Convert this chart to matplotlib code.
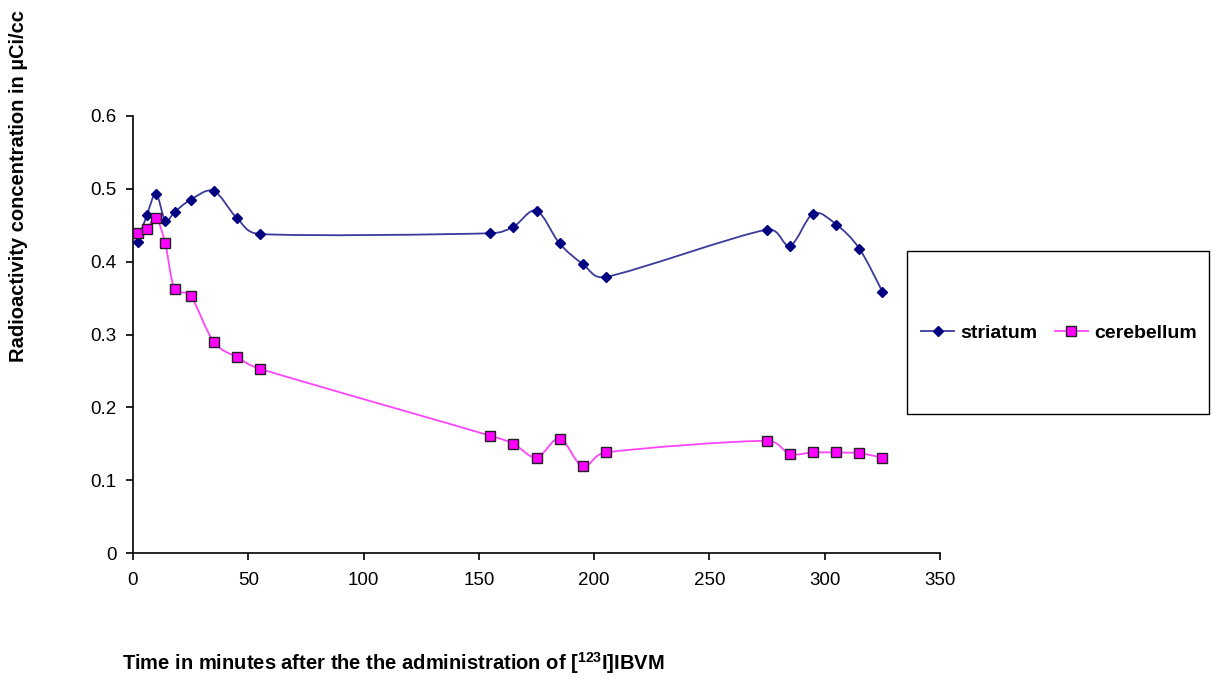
import numpy as np
import matplotlib
matplotlib.use("Agg")
import matplotlib.pyplot as plt
from matplotlib.path import Path
from matplotlib.patches import PathPatch, Rectangle
from matplotlib.lines import Line2D

plt.rcParams['font.family'] = ['Liberation Sans', 'DejaVu Sans']
plt.rcParams['mathtext.fontset'] = 'custom'
plt.rcParams['mathtext.rm'] = 'Liberation Sans'
plt.rcParams['mathtext.bf'] = 'Liberation Sans:bold'

time_min = [2, 6, 10, 14, 18, 25, 35, 45, 55, 155, 165, 175, 185, 195, 205,
            275, 285, 295, 305, 315, 325]
striatum = [0.427, 0.464, 0.493, 0.456, 0.468, 0.485, 0.497, 0.460, 0.438,
            0.439, 0.448, 0.470, 0.425, 0.397, 0.379,
            0.444, 0.422, 0.466, 0.451, 0.418, 0.359]
cerebellum = [0.439, 0.445, 0.460, 0.425, 0.363, 0.353, 0.290, 0.269, 0.253,
              0.161, 0.150, 0.131, 0.157, 0.119, 0.138,
              0.154, 0.136, 0.138, 0.138, 0.137, 0.131]
x_ticks = [0, 50, 100, 150, 200, 250, 300, 350]
y_ticks = [0, 0.1, 0.2, 0.3, 0.4, 0.5, 0.6]

X_MAX, Y_MAX = 350, 0.6
AX_W_PX, AX_H_PX = 807.0, 437.0


def smooth_path(x, y):
    """Excel-like smoothed line: Bezier with tangents clamped (computed in screen scale)."""
    p = np.column_stack([x, y]).astype(float)
    sc = np.array([AX_W_PX / X_MAX, AX_H_PX / Y_MAX])
    q = p * sc
    ext = np.vstack([q[0], q, q[-1]])
    verts = [p[0]]
    codes = [Path.MOVETO]
    for i in range(len(q) - 1):
        p0, p1, p2, p3 = ext[i], ext[i + 1], ext[i + 2], ext[i + 3]
        d12 = np.linalg.norm(p2 - p1)
        d02 = np.linalg.norm(p2 - p0)
        d13 = np.linalg.norm(p3 - p1)
        f0 = 1 / 6.0
        f3 = 1 / 6.0
        if d02 / 6.0 > d12 / 2.0 and d02 > 0:
            f0 = d12 / (2.0 * d02)
        if d13 / 6.0 > d12 / 2.0 and d13 > 0:
            f3 = d12 / (2.0 * d13)
        c1 = p1 + f0 * (p2 - p0)
        c2 = p2 - f3 * (p3 - p1)
        verts += [c1 / sc, c2 / sc, p2 / sc]
        codes += [Path.CURVE4] * 3
    return Path(verts, codes)


fig = plt.figure(figsize=(12.12, 6.79), dpi=100)
ax = fig.add_axes([133 / 1212, (679 - 553) / 679, (940 - 133) / 1212, (553 - 116) / 679])

s_line = '#3A3A9A'
c_line = '#FF44FF'
ax.add_patch(PathPatch(smooth_path(time_min, striatum), fill=False, edgecolor=s_line, lw=1.3, zorder=2))
ax.add_patch(PathPatch(smooth_path(time_min, cerebellum), fill=False, edgecolor=c_line, lw=1.3, zorder=2))
ax.plot(time_min, striatum, linestyle='none', marker='D', markersize=5.5,
        markerfacecolor='#000080', markeredgecolor='#000080', zorder=3)
ax.plot(time_min, cerebellum, linestyle='none', marker='s', markersize=7,
        markerfacecolor='#FF00FF', markeredgecolor='#222222', markeredgewidth=1.0, zorder=3)

ax.set_xlim(0, X_MAX)
ax.set_ylim(0, Y_MAX)
ax.set_xticks(x_ticks)
ax.set_yticks(y_ticks)
ax.set_xticklabels([str(v) for v in x_ticks])
ax.set_yticklabels(['0'] + ['%.1f' % v for v in y_ticks[1:]])
ax.spines['top'].set_visible(False)
ax.spines['right'].set_visible(False)
for sp in ['left', 'bottom']:
    ax.spines[sp].set_linewidth(1.2)
    ax.spines[sp].set_color('#000000')
ax.tick_params(direction='out', length=5, width=1.2, labelsize=13.5)
ax.tick_params(axis='x', pad=9)
ax.tick_params(axis='y', pad=7)

fig.text(122 / 1212, 1 - 663 / 679,
         r'Time in minutes after the the administration of [$\mathbf{^{123}}$I]IBVM',
         fontsize=14.5, fontweight='bold', ha='left', va='center')
fig.text(19 / 1212, 1 - 186 / 679, 'Radioactivity concentration in µCi/cc',
         fontsize=14.5, fontweight='bold', rotation=90, ha='center', va='center')

# legend box
fig.patches.append(Rectangle((907 / 1212, 1 - 414 / 679), (1209 - 907) / 1212, (414 - 251) / 679,
                             transform=fig.transFigure, fill=False, edgecolor='black', lw=1.0))
handles = [
    Line2D([], [], color=s_line, lw=1.3, marker='D', markersize=5.5,
           markerfacecolor='#000080', markeredgecolor='#000080'),
    Line2D([], [], color=c_line, lw=1.3, marker='s', markersize=7,
           markerfacecolor='#FF00FF', markeredgecolor='#222222'),
]
fig.legend(handles, ['striatum', 'cerebellum'], loc='center',
           bbox_to_anchor=(1059 / 1212, 1 - 333 / 679), ncol=2, frameon=False,
           prop={'size': 14, 'weight': 'bold'}, handlelength=1.7, handletextpad=0.3,
           columnspacing=0.9, borderpad=0, borderaxespad=0)

fig.savefig('out.png', dpi=100)
